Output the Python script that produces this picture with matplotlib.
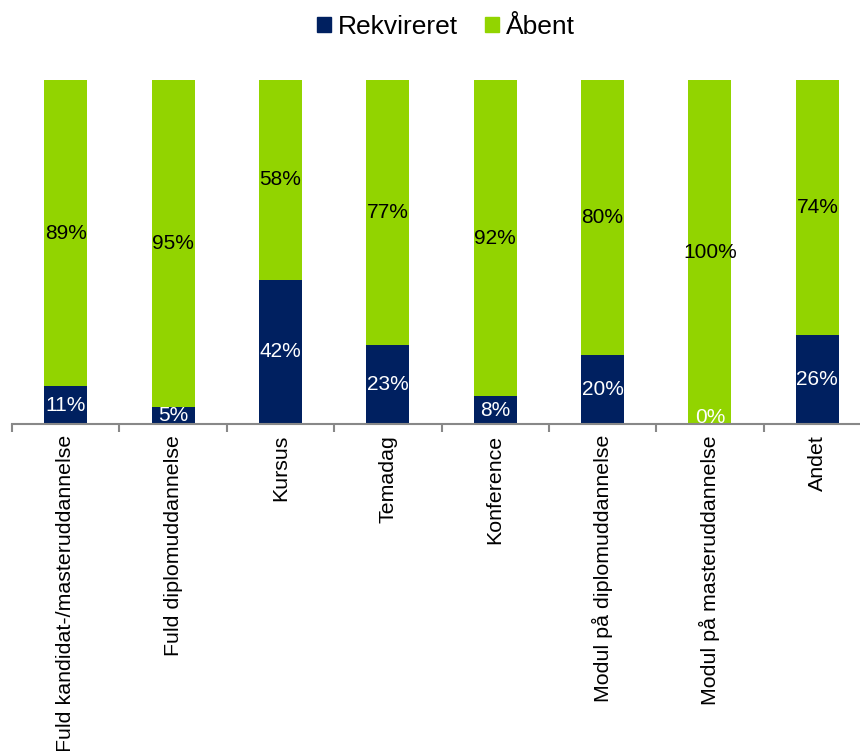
import matplotlib
matplotlib.use("Agg")
import matplotlib.pyplot as plt
import numpy as np
from matplotlib.patches import Patch

categories = ["Fuld kandidat-/masteruddannelse", "Fuld diplomuddannelse", "Kursus", "Temadag",
              "Konference", "Modul på diplomuddannelse", "Modul på masteruddannelse", "Andet"]
rekvireret = [11, 5, 42, 23, 8, 20, 0, 26]
aabent = [89, 95, 58, 77, 92, 80, 100, 74]

plt.rcParams['font.family'] = ['Liberation Sans', 'DejaVu Sans']
navy = '#002060'
green = '#92D400'

fig = plt.figure(figsize=(8.6, 7.51), dpi=100)
W, H = 860, 751
ax = fig.add_axes([12 / W, (H - 424) / H, 859 / W, 344 / H])
x = np.arange(len(categories))
bw = 0.4
ax.bar(x, rekvireret, bw, color=navy)
ax.bar(x, aabent, bw, bottom=rekvireret, color=green)

for i, (r, a) in enumerate(zip(rekvireret, aabent)):
    ax.text(i, r / 2 if r > 0 else 2.0, f"{r}%", ha='center', va='center', color='white', fontsize=15)
    ax.text(i, r + a / 2, f"{a}%", ha='center', va='center', color='black', fontsize=15)

ax.set_xlim(-0.5, len(categories) - 0.5)
ax.set_ylim(0, 100)
ax.set_yticks([])
for s in ['left', 'right', 'top']:
    ax.spines[s].set_visible(False)
ax.spines['bottom'].set_color('#888888')
ax.spines['bottom'].set_linewidth(1.5)
ax.set_xticks(np.arange(len(categories) + 1) - 0.5, minor=True)
ax.tick_params(axis='x', which='minor', length=6, width=1.5, color='#888888', direction='out')
ax.set_xticks(x)
ax.set_xticklabels(categories, rotation=90, fontsize=15.4, va='top', ha='center')
ax.tick_params(axis='x', which='major', length=0, pad=8)

handles = [Patch(color=navy, label='Rekvireret'), Patch(color=green, label='Åbent')]
fig.legend(handles=handles, loc='center', bbox_to_anchor=(446 / W, 1 - 27 / H), ncol=2, frameon=False,
           fontsize=19, handlelength=0.53, handleheight=0.53, handletextpad=0.27, columnspacing=1.0,
           borderpad=0, borderaxespad=0)

fig.savefig("out.png", dpi=100)
